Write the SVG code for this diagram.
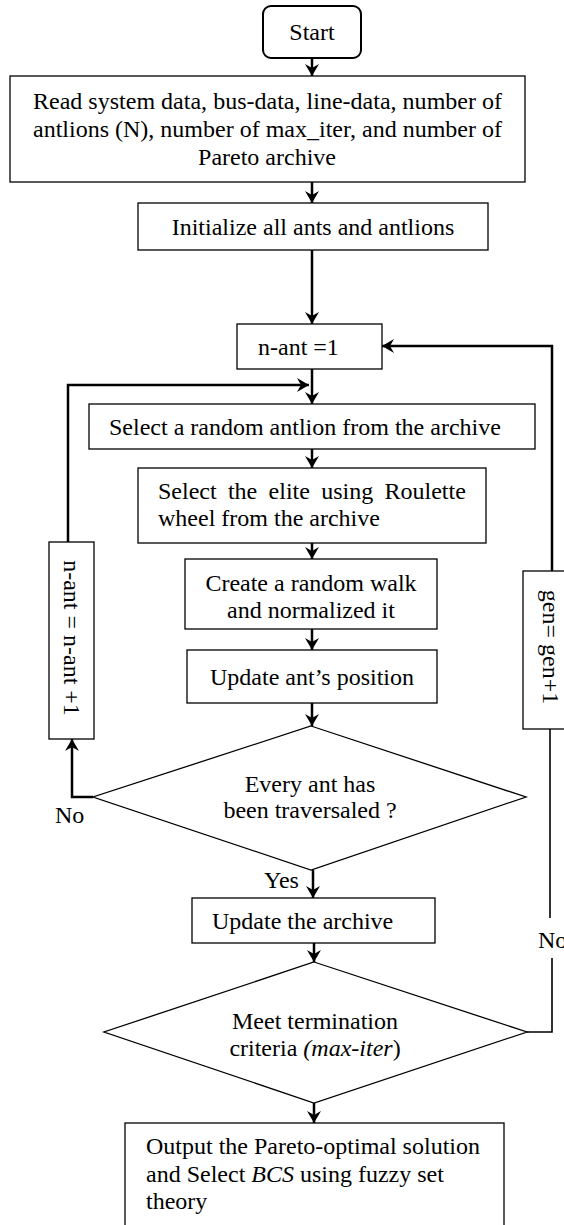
<svg xmlns="http://www.w3.org/2000/svg" width="564" height="1225" viewBox="0 0 564 1225">
<style>
.b{fill:#fff;stroke:#000;stroke-width:1.3}
.t{font-family:"Liberation Serif","Times New Roman",serif;font-size:24px;fill:#000}
.m{text-anchor:middle}
.c{fill:none;stroke:#000;stroke-width:2.5}
.c2{fill:none;stroke:#000;stroke-width:1.6}
</style>
<defs>
<marker id="ah" markerUnits="userSpaceOnUse" markerWidth="12" markerHeight="14" viewBox="0 0 12 14" refX="12" refY="7" orient="auto">
<path d="M0,0 L12,7 L0,14 L4,7 z" fill="#000"/>
</marker>
</defs>
<rect width="564" height="1225" fill="#fff"/>
<g id="connectors">
<line class="c" x1="312" y1="58" x2="312" y2="76" marker-end="url(#ah)"/>
<line class="c" x1="312" y1="182" x2="312" y2="203" marker-end="url(#ah)"/>
<line class="c" x1="312" y1="250" x2="312" y2="324" marker-end="url(#ah)"/>
<line class="c" x1="312" y1="369" x2="312" y2="404" marker-end="url(#ah)"/>
<line class="c" x1="312" y1="449" x2="312" y2="468" marker-end="url(#ah)"/>
<line class="c" x1="312" y1="543" x2="312" y2="559" marker-end="url(#ah)"/>
<line class="c" x1="312" y1="629" x2="312" y2="650" marker-end="url(#ah)"/>
<line class="c" x1="312" y1="703" x2="312" y2="726" marker-end="url(#ah)"/>
<line class="c" x1="313" y1="870" x2="313" y2="898" marker-end="url(#ah)"/>
<line class="c" x1="314" y1="943" x2="314" y2="962" marker-end="url(#ah)"/>
<line class="c" x1="314" y1="1103" x2="314" y2="1123" marker-end="url(#ah)"/>
<polyline class="c" points="93,797 72,797 72,739" marker-end="url(#ah)"/>
<polyline class="c" points="68,542 68,385 309,385" marker-end="url(#ah)"/>
<polyline class="c2" points="527,1032 552,1032 552,958"/>
<line class="c2" x1="550" y1="918" x2="550" y2="729"/>
<polyline class="c" points="552,571 552,346 382,346" marker-end="url(#ah)"/>
</g>
<g id="start">
<rect x="263" y="6" width="98" height="52" rx="8" fill="#fff" stroke="#000" stroke-width="2"/>
<text class="t m" x="312" y="40">Start</text>
</g>
<g id="read">
<rect class="b" x="10" y="76" width="515" height="106"/>
<text class="t" x="33" y="109" textLength="469" lengthAdjust="spacing">Read system data, bus-data, line-data, number of</text>
<text class="t" x="33" y="137" textLength="469" lengthAdjust="spacing">antlions (N), number of max_iter, and number of</text>
<text class="t m" x="267" y="165">Pareto archive</text>
</g>
<g id="init">
<rect class="b" x="138" y="203" width="350" height="47"/>
<text class="t m" x="313" y="235">Initialize all ants and antlions</text>
</g>
<g id="nant1">
<rect class="b" x="237" y="324" width="145" height="45"/>
<text class="t" x="258" y="355">n-ant =1</text>
</g>
<g id="select">
<rect class="b" x="89" y="404" width="446" height="45"/>
<text class="t" x="109" y="435">Select a random antlion from the archive</text>
</g>
<g id="roulette">
<rect class="b" x="138" y="468" width="348" height="75"/>
<text class="t" x="158" y="499" word-spacing="5.3">Select the elite using Roulette</text>
<text class="t" x="158" y="526">wheel from the archive</text>
</g>
<g id="walk">
<rect class="b" x="185" y="559" width="252" height="70"/>
<text class="t m" x="311" y="591">Create a random walk</text>
<text class="t m" x="311" y="618">and normalized it</text>
</g>
<g id="updateant">
<rect class="b" x="187" y="650" width="250" height="53"/>
<text class="t m" x="312" y="685">Update ant’s position</text>
</g>
<g id="diamond1">
<polygon class="b" points="311,726 526,797 311,870 93,797"/>
<text class="t m" x="310" y="792">Every ant has</text>
<text class="t m" x="310" y="818">been traversaled ?</text>
</g>
<g id="nantinc">
<rect class="b" x="49" y="542" width="45" height="197"/>
<text class="t m" transform="translate(64,638) rotate(90)">n-ant = n-ant +1</text>
</g>
<g id="gen">
<rect class="b" x="523" y="571" width="60" height="158"/>
<text class="t m" transform="translate(543,647) rotate(90)">gen= gen+1</text>
</g>
<g id="labels">
<text class="t" x="55" y="823">No</text>
<text class="t" x="264" y="888">Yes</text>
<text class="t" x="538" y="948">No</text>
</g>
<g id="archive">
<rect class="b" x="192" y="898" width="243" height="45"/>
<text class="t" x="212" y="929">Update the archive</text>
</g>
<g id="diamond2">
<polygon class="b" points="314,962 527,1032 314,1103 104,1032"/>
<text class="t m" x="315" y="1029">Meet termination</text>
<text class="t m" x="315" y="1056">criteria <tspan font-style="italic">(max-iter</tspan>)</text>
</g>
<g id="output">
<rect class="b" x="125" y="1123" width="379" height="120"/>
<text class="t" x="146" y="1154">Output the Pareto-optimal solution</text>
<text class="t" x="146" y="1182">and Select <tspan font-style="italic">BCS</tspan> using fuzzy set</text>
<text class="t" x="146" y="1209">theory</text>
</g>
</svg>
